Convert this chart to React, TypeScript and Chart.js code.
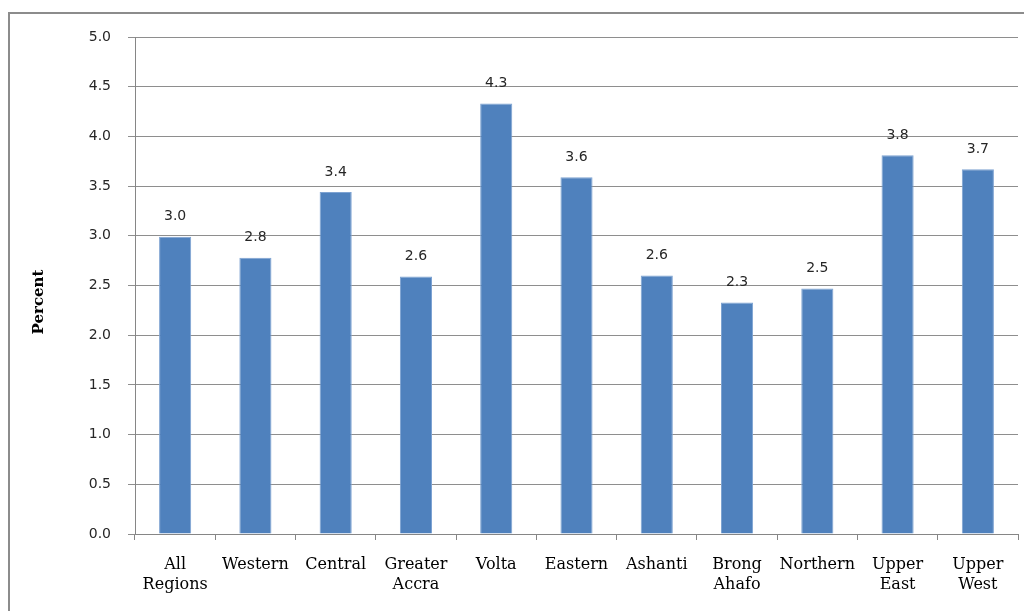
import React, { useEffect, useRef } from "react";
import { Chart, registerables } from "chart.js";

Chart.register(...registerables);

const categories: (string | string[])[] = [
  ["All", "Regions"],
  "Western",
  "Central",
  ["Greater", "Accra"],
  "Volta",
  "Eastern",
  "Ashanti",
  ["Brong", "Ahafo"],
  "Northern",
  ["Upper", "East"],
  ["Upper", "West"],
];
const values: number[] = [2.99, 2.78, 3.44, 2.59, 4.33, 3.59, 2.6, 2.33, 2.47, 3.81, 3.67];
const yTicks: number[] = [0, 0.5, 1.0, 1.5, 2.0, 2.5, 3.0, 3.5, 4.0, 4.5, 5.0];
const yTitle = "Percent";

const W = 1024;
const H = 603;

export default function App() {
  const ref = useRef<HTMLCanvasElement | null>(null);
  useEffect(() => {
    if (!ref.current) return;
    const framePlugin = {
      id: "frame",
      beforeDraw(chart: any) {
        const ctx = chart.ctx;
        ctx.save();
        ctx.fillStyle = "#ffffff";
        ctx.fillRect(0, 0, chart.width, chart.height);
        ctx.strokeStyle = "#8c8c8c";
        ctx.lineWidth = 2;
        ctx.beginPath();
        ctx.moveTo(1, chart.height + 2);
        ctx.lineTo(1, 5);
        ctx.lineTo(chart.width + 2, 5);
        ctx.stroke();
        ctx.restore();
      },
    };
    const labelPlugin = {
      id: "barLabels",
      afterDatasetsDraw(chart: any) {
        const ctx = chart.ctx;
        const meta = chart.getDatasetMeta(0);
        ctx.save();
        ctx.font = "14px 'DejaVu Sans'";
        ctx.fillStyle = "#262626";
        ctx.textAlign = "center";
        ctx.textBaseline = "middle";
        meta.data.forEach((el: any, i: number) => {
          ctx.fillText(values[i].toFixed(1), el.x, el.y - 20);
        });
        // y axis title
        ctx.font = "bold 15px 'DejaVu Serif'";
        ctx.fillStyle = "#000000";
        ctx.translate(31, 294);
        ctx.rotate(-Math.PI / 2);
        ctx.fillText(yTitle, 0, 0);
        ctx.restore();
      },
    };
    const chart = new Chart(ref.current, {
      type: "bar",
      data: {
        labels: categories,
        datasets: [
          {
            data: values,
            backgroundColor: "#4f81bd",
            borderColor: "#7ea3d2",
            borderWidth: 1,
            barPercentage: 0.4,
            categoryPercentage: 1.0,
          },
        ],
      },
      options: {
        animation: false,
        responsive: false,
        layout: { padding: { top: 29, right: 14, bottom: 0, left: 0 } },
        plugins: {
          legend: { display: false },
          tooltip: { enabled: false },
          title: { display: false },
        },
        scales: {
          x: {
            offset: true,
            grid: {
              offset: true,
              drawOnChartArea: false,
              drawTicks: true,
              tickLength: 6,
              color: "#868686",
            },
            border: { color: "#868686", width: 1 },
            ticks: {
              font: { family: "'DejaVu Serif'", size: 16, lineHeight: 1.25 },
              color: "#000000",
              padding: 15,
              maxRotation: 0,
              autoSkip: false,
            },
            afterFit(scale: any) {
              scale.height = 77;
            },
          },
          y: {
            min: 0,
            max: 5,
            afterBuildTicks(scale: any) {
              scale.ticks = yTicks.map((v) => ({ value: v }));
            },
            grid: {
              color: "#8e8e8e",
              tickLength: 7,
              drawTicks: true,
            },
            border: { color: "#868686", width: 1 },
            ticks: {
              font: { family: "'DejaVu Sans'", size: 14 },
              color: "#262626",
              padding: 17,
              callback: (v: any) => Number(v).toFixed(1),
            },
            afterFit(scale: any) {
              scale.width = 127;
            },
          },
        },
      },
      plugins: [framePlugin, labelPlugin],
    });
    return () => chart.destroy();
  }, []);
  return (
    <div style={{ width: W, height: H }}>
      <canvas ref={ref} width={W} height={H} style={{ display: "block" }} />
    </div>
  );
}
